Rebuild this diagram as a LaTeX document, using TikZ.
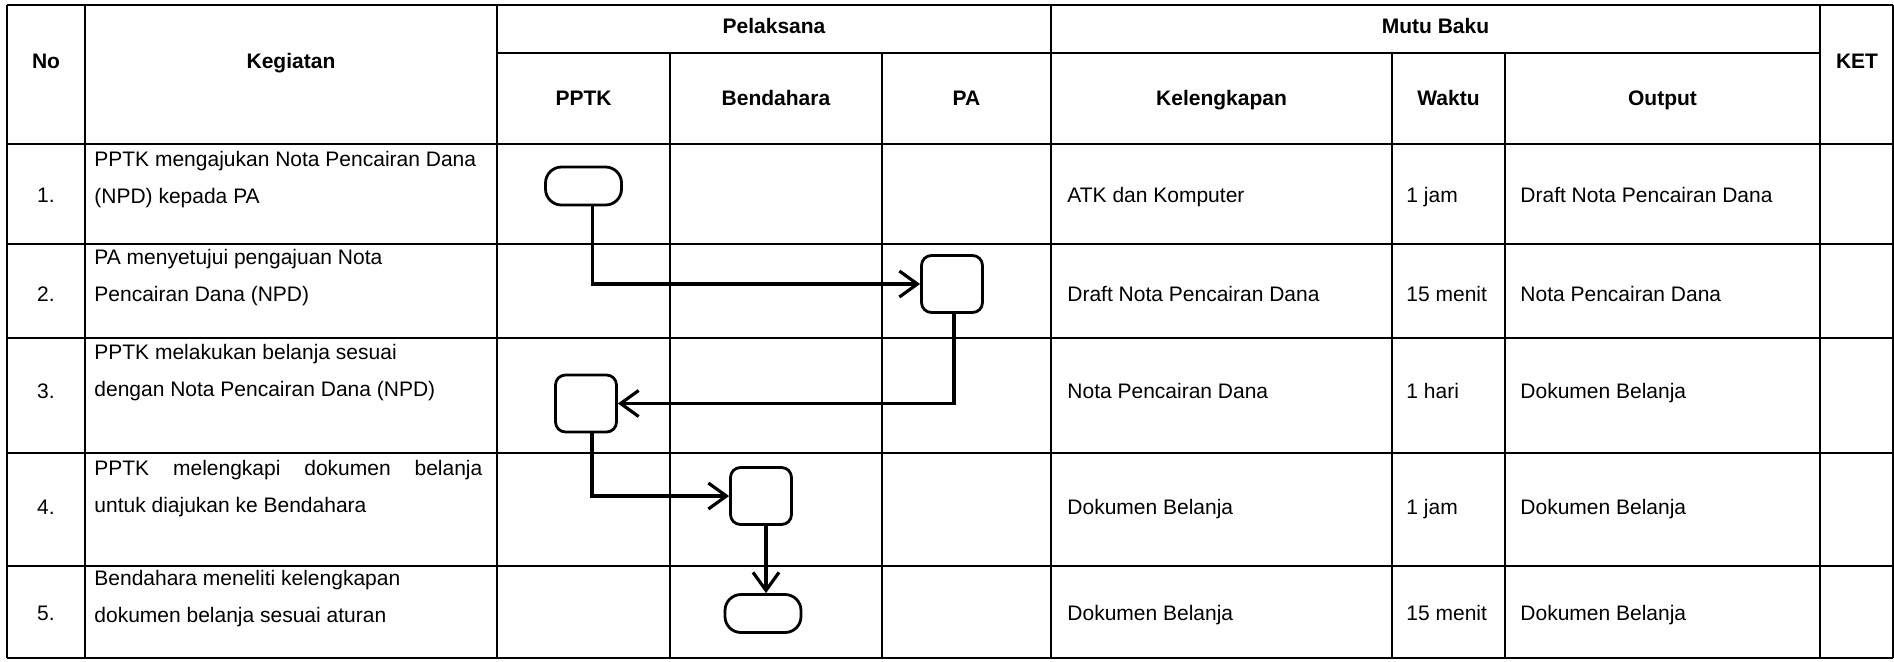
\documentclass[tikz,border=0pt]{standalone}
\usepackage{fontspec}
\setmainfont{Liberation Sans}
\usetikzlibrary{arrows.meta}
\begin{document}
\begin{tikzpicture}[x=0.5pt,y=-0.5pt,
  hline/.style={line width=0.95pt},
  vline/.style={line width=0.85pt},
  hd/.style={font=\fontsize{10.5}{12}\selectfont\bfseries, inner sep=0pt, anchor=mid},
  txt/.style={font=\fontsize{10.5}{18.5}\selectfont, inner sep=0pt, align=left, anchor=west},
  cell/.style={font=\fontsize{10.5}{12}\selectfont, inner sep=0pt, anchor=mid west},
  num/.style={font=\fontsize{10.5}{12}\selectfont, inner sep=0pt, anchor=mid},
  term/.style={draw, line width=1.4pt, rounded corners=8pt, minimum width=38pt, minimum height=19pt, inner sep=0pt},
  act/.style={draw, line width=1.4pt, rounded corners=5pt, minimum width=30.5pt, minimum height=28.5pt, inner sep=0pt},
  flow/.style={line width=1.6pt, -{Straight Barb[length=9pt,width=13pt]}}]
\useasboundingbox (0,0) rectangle (1894,661);

% ---- table grid ----
\draw[hline] (7,5) -- (1893,5);
\draw[hline] (497,53) -- (1820,53);
\foreach \yy in {144,244,338,453,566,658} \draw[hline] (7,\yy) -- (1893,\yy);
\foreach \xx in {7,85,497,1051,1820,1893} \draw[vline] (\xx,5) -- (\xx,658);
\foreach \xx in {670,882,1392,1505} \draw[vline] (\xx,53) -- (\xx,658);

% ---- header ----
\node[hd] (hNo) at (46,63) {No};
\node[hd] (hKeg) at (291,63) {Kegiatan};
\node[hd] (hPel) at (774,28) {Pelaksana};
\node[hd] (hMutu) at (1435.5,28) {Mutu Baku};
\node[hd] (hKET) at (1857,63) {KET};
\node[hd] (hPPTK) at (583.5,100) {PPTK};
\node[hd] (hBend) at (776,100) {Bendahara};
\node[hd] (hPA) at (966.5,100) {PA};
\node[hd] (hKel) at (1221.5,100) {Kelengkapan};
\node[hd] (hWak) at (1448.5,100) {Waktu};
\node[hd] (hOut) at (1662.5,100) {Output};

% ---- rows ----
\node[num] (n1) at (46,197) {1.};
\node[num] (n2) at (46,296) {2.};
\node[num] (n3) at (46,393) {3.};
\node[num] (n4) at (46,509) {4.};
\node[num] (n5) at (46,615) {5.};

\node[txt] (k1) at (94,180) {PPTK mengajukan Nota Pencairan Dana\\(NPD) kepada PA};
\node[txt] (k2) at (94,278) {PA menyetujui pengajuan Nota\\Pencairan Dana (NPD)};
\node[txt] (k3) at (94,373) {PPTK melakukan belanja sesuai\\dengan Nota Pencairan Dana (NPD)};
\node[txt] (k4) at (94,489) {\hbox to 194pt{PPTK\hfill melengkapi\hfill dokumen\hfill belanja}\\untuk diajukan ke Bendahara};
\node[txt] (k5) at (94,599) {Bendahara meneliti kelengkapan\\dokumen belanja sesuai aturan};

\node[cell] (l1) at (1067,197) {ATK dan Komputer};
\node[cell] (l2) at (1067,296) {Draft Nota Pencairan Dana};
\node[cell] (l3) at (1067,393) {Nota Pencairan Dana};
\node[cell] (l4) at (1067,509) {Dokumen Belanja};
\node[cell] (l5) at (1067,615) {Dokumen Belanja};

\node[cell] (w1) at (1406,197) {1 jam};
\node[cell] (w2) at (1406,296) {15 menit};
\node[cell] (w3) at (1406,393) {1 hari};
\node[cell] (w4) at (1406,509) {1 jam};
\node[cell] (w5) at (1406,615) {15 menit};

\node[cell] (o1) at (1520,197) {Draft Nota Pencairan Dana};
\node[cell] (o2) at (1520,296) {Nota Pencairan Dana};
\node[cell] (o3) at (1520,393) {Dokumen Belanja};
\node[cell] (o4) at (1520,509) {Dokumen Belanja};
\node[cell] (o5) at (1520,615) {Dokumen Belanja};

% ---- flowchart ----
\node[term] (start) at (583.5,186) {};
\node[act] (b2) at (952,284) {};
\node[act] (b3) at (586,403.5) {};
\node[act] (b4) at (761,496) {};
\node[term] (stop) at (763,613.5) {};

\draw[flow] ([xshift=4.5pt]start.south) |- (b2.west);
\draw[flow] ([xshift=1pt]b2.south) |- (b3.east);
\draw[flow] ([xshift=3pt]b3.south) |- (b4.west);
\draw[flow] ([xshift=1.5pt]stop.north |- b4.south) -- ([xshift=1.5pt]stop.north);
\end{tikzpicture}
\end{document}
